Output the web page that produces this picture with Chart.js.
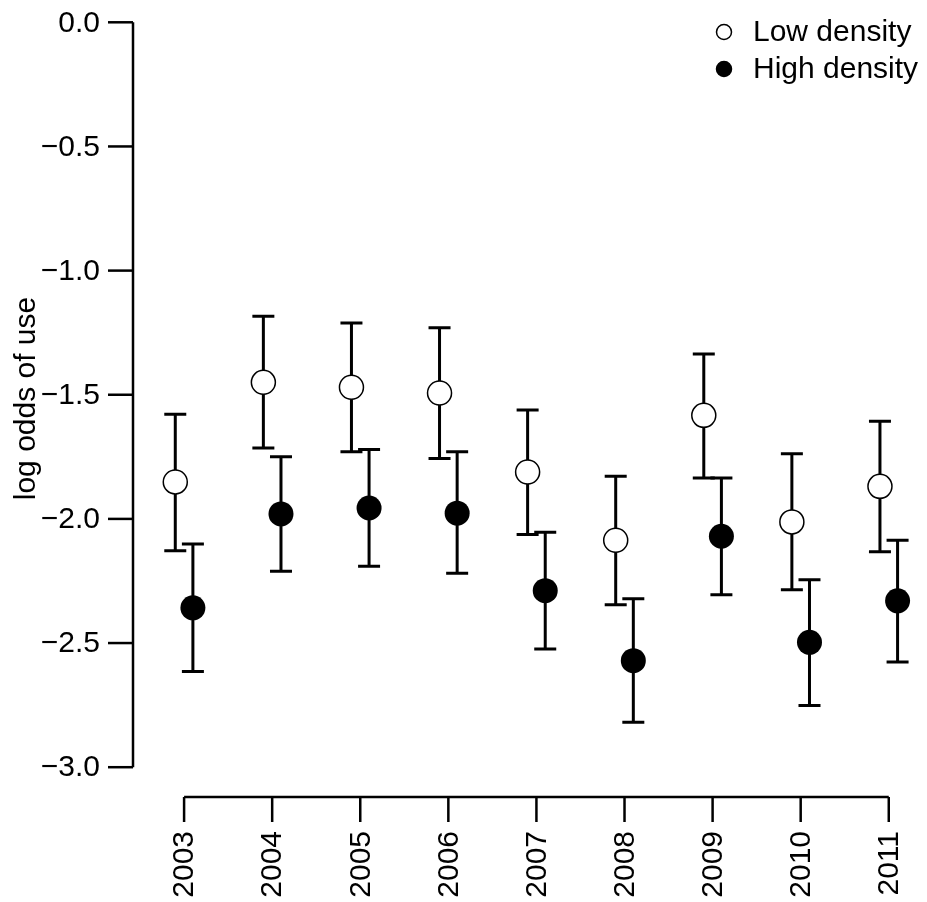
<!DOCTYPE html>
<html>
<head>
<meta charset="utf-8">
<script src="https://cdn.jsdelivr.net/npm/chart.js@4"></script>
<style>
  html, body { margin: 0; padding: 0; background: #fff; }
  #wrap { width: 927px; height: 902px; position: relative; }
</style>
</head>
<body>
<div id="wrap"><canvas id="oddsChart"></canvas></div>
<script>
// ================================
// Data
// ================================

const years = [2003, 2004, 2005, 2006, 2007, 2008, 2009, 2010, 2011]

const lowMean  = [-1.851, -1.450, -1.470, -1.493, -1.811, -2.086, -1.583, -2.012, -1.869]
const lowUpper = [-1.579, -1.184, -1.211, -1.230, -1.561, -1.828, -1.336, -1.738, -1.607]
const lowLower = [-2.128, -1.714, -1.730, -1.757, -2.063, -2.346, -1.835, -2.285, -2.132]

const highMean  = [-2.358, -1.980, -1.956, -1.977, -2.289, -2.571, -2.070, -2.497, -2.330]
const highUpper = [-2.101, -1.750, -1.720, -1.730, -2.054, -2.322, -1.835, -2.245, -2.086]
const highLower = [-2.615, -2.211, -2.191, -2.219, -2.524, -2.819, -2.305, -2.751, -2.576]

const yTicks = [0, -0.5, -1, -1.5, -2, -2.5, -3]
const yTickLabels = ["0.0", "\u22120.5", "\u22121.0", "\u22121.5", "\u22122.0", "\u22122.5", "\u22123.0"]

const seriesNames = ["Low density", "High density"]

// --- style ---
const FONT = "'Liberation Sans', Arial, Helvetica, sans-serif"
const dodge = 0.1

// ================================
// Error bars under the points
// ================================

const errorBars = {
    id: "errorBars",
    beforeDatasetsDraw(chart) {
        const ctx = chart.ctx
        const xs = chart.scales.x
        const ys = chart.scales.y
        const groups = [
            { lo: lowLower, hi: lowUpper, off: -dodge },
            { lo: highLower, hi: highUpper, off: dodge }
        ]
        ctx.save()
        ctx.strokeStyle = "#000"
        ctx.lineWidth = 3
        ctx.lineCap = "butt"
        for (let g of groups) {
            for (let i = 0; i < years.length; i++) {
                let px = xs.getPixelForValue(years[i] + g.off)
                let y1 = ys.getPixelForValue(g.hi[i])
                let y2 = ys.getPixelForValue(g.lo[i])
                ctx.beginPath()
                ctx.moveTo(px, y1)
                ctx.lineTo(px, y2)
                ctx.moveTo(px - 11, y1)
                ctx.lineTo(px + 11, y1)
                ctx.moveTo(px - 11, y2)
                ctx.lineTo(px + 11, y2)
                ctx.stroke()
            }
        }
        ctx.restore()
    }
}

// ================================
// R-style detached axes + legend
// ================================

const rAxes = {
    id: "rAxes",
    afterDraw(chart) {
        const ctx = chart.ctx
        const xs = chart.scales.x
        const ys = chart.scales.y
        const area = chart.chartArea

        ctx.save()
        ctx.strokeStyle = "#000"
        ctx.fillStyle = "#000"
        ctx.lineWidth = 2.5
        ctx.lineCap = "butt"

        // y axis
        let ax = area.left
        ctx.beginPath()
        ctx.moveTo(ax, ys.getPixelForValue(yTicks[0]))
        ctx.lineTo(ax, ys.getPixelForValue(yTicks[yTicks.length - 1]))
        ctx.stroke()

        ctx.font = "30px " + FONT
        ctx.textAlign = "right"
        ctx.textBaseline = "middle"
        for (let i = 0; i < yTicks.length; i++) {
            let py = ys.getPixelForValue(yTicks[i])
            ctx.beginPath()
            ctx.moveTo(ax, py)
            ctx.lineTo(ax - 25, py)
            ctx.stroke()
            ctx.fillText(yTickLabels[i], ax - 33, py + 1)
        }

        // x axis
        let ay = area.bottom
        ctx.beginPath()
        ctx.moveTo(xs.getPixelForValue(years[0]), ay)
        ctx.lineTo(xs.getPixelForValue(years[years.length - 1]), ay)
        ctx.stroke()

        for (let i = 0; i < years.length; i++) {
            let px = xs.getPixelForValue(years[i])
            ctx.beginPath()
            ctx.moveTo(px, ay)
            ctx.lineTo(px, ay + 25)
            ctx.stroke()
            ctx.save()
            ctx.translate(px, ay + 34)
            ctx.rotate(-Math.PI / 2)
            ctx.textAlign = "right"
            ctx.textBaseline = "middle"
            ctx.fillText(String(years[i]), 0, 1)
            ctx.restore()
        }

        // y axis title
        ctx.save()
        ctx.translate(27, (area.top + area.bottom) / 2)
        ctx.rotate(-Math.PI / 2)
        ctx.textAlign = "center"
        ctx.textBaseline = "middle"
        ctx.fillText("log odds of use", 0, 0)
        ctx.restore()

        // legend
        const legendRows = [
            { name: seriesNames[0], fill: "#fff", y: 32 },
            { name: seriesNames[1], fill: "#000", y: 69 }
        ]
        ctx.textAlign = "left"
        ctx.textBaseline = "middle"
        for (let row of legendRows) {
            ctx.beginPath()
            ctx.arc(724, row.y, 7.5, 0, Math.PI * 2)
            ctx.fillStyle = row.fill
            ctx.fill()
            ctx.lineWidth = 1.5
            ctx.strokeStyle = "#000"
            ctx.stroke()
            ctx.fillStyle = "#000"
            ctx.fillText(row.name, 753, row.y + 1)
        }

        ctx.restore()
    }
}

// ================================
// Chart
// ================================

const ctx = document.getElementById("oddsChart")

new Chart(ctx, {
    type: "scatter",
    data: {
        datasets: [
            {
                label: seriesNames[0],
                data: years.map((yr, i) => ({ x: yr - dodge, y: lowMean[i] })),
                pointRadius: 12,
                pointBackgroundColor: "#fff",
                pointBorderColor: "#000",
                pointBorderWidth: 1.5
            },
            {
                label: seriesNames[1],
                data: years.map((yr, i) => ({ x: yr + dodge, y: highMean[i] })),
                pointRadius: 12.5,
                pointBackgroundColor: "#000",
                pointBorderColor: "#000",
                pointBorderWidth: 0
            }
        ]
    },
    options: {
        responsive: true,
        maintainAspectRatio: false,
        animation: false,
        layout: {
            autoPadding: false,
            padding: { left: 133, right: 3, top: 0, bottom: 105 }
        },
        plugins: {
            legend: { display: false },
            tooltip: { enabled: false }
        },
        scales: {
            x: { type: "linear", display: false, min: 2002.42, max: 2011.4 },
            y: { type: "linear", display: false, min: -3.12, max: 0.0898 }
        }
    },
    plugins: [errorBars, rAxes]
})
</script>
</body>
</html>
